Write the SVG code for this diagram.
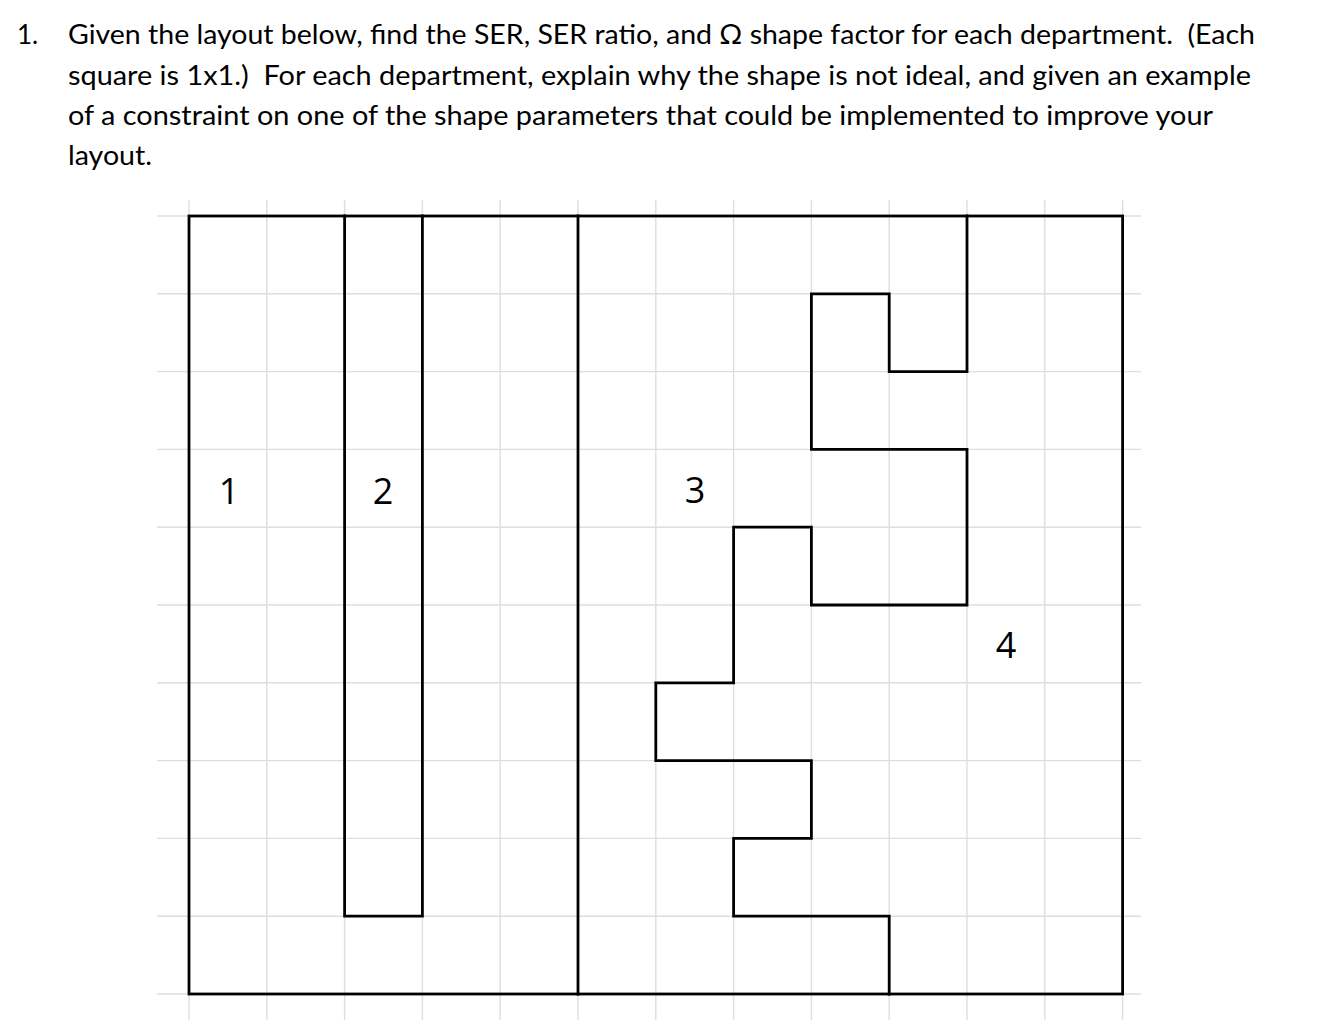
<svg xmlns="http://www.w3.org/2000/svg" width="1319" height="1033" viewBox="0 0 1319 1033">
<style>
.q{font-family:Lato,"Open Sans","Liberation Sans",sans-serif;font-size:26px;fill:#000;white-space:pre}
.g{stroke:#dedede;stroke-width:1.4;fill:none}
.o{stroke:#000;stroke-width:2.8;fill:none;stroke-linecap:square;stroke-linejoin:miter}
.n{font-family:"Open Sans","Liberation Sans",sans-serif;font-size:36px;fill:#000;text-anchor:middle}
</style>
<rect width="1319" height="1033" fill="#fff"/>
<g id="question" xml:space="preserve">
<text class="q" x="17" y="44">1.</text>
<text class="q" x="68" y="44" textLength="1187" lengthAdjust="spacingAndGlyphs">Given the layout below, find the SER, SER ratio, and Ω shape factor for each department.  (Each</text>
<text class="q" x="68" y="85" textLength="1183" lengthAdjust="spacingAndGlyphs">square is 1x1.)  For each department, explain why the shape is not ideal, and given an example</text>
<text class="q" x="68" y="125" textLength="1145" lengthAdjust="spacingAndGlyphs">of a constraint on one of the shape parameters that could be implemented to improve your</text>
<text class="q" x="68" y="165" textLength="84" lengthAdjust="spacingAndGlyphs">layout.</text>
</g>
<g id="grid" class="g">
<path d="M189 200V1020M266.8 200V1020M344.6 200V1020M422.4 200V1020M500.2 200V1020M578 200V1020M655.8 200V1020M733.6 200V1020M811.4 200V1020M889.2 200V1020M967 200V1020M1044.8 200V1020M1122.6 200V1020"/>
<path d="M157 216H1141M157 293.8H1141M157 371.6H1141M157 449.4H1141M157 527.2H1141M157 605H1141M157 682.8H1141M157 760.6H1141M157 838.4H1141M157 916.2H1141M157 994H1141"/>
</g>
<g id="connectors">
<rect id="outline" class="o" x="189" y="216" width="933.6" height="778"/>
<path id="edge-1-2" class="o" d="M344.6 216V916.2H422.4V216"/>
<path id="edge-2-3" class="o" d="M578 216V994"/>
<path id="edge-3-4" class="o" d="M967 216V371.6H889.2V293.8H811.4V449.4H967V605H811.4V527.2H733.6V682.8H655.8V760.6H811.4V838.4H733.6V916.2H889.2V994"/>
</g>
<g id="dept1"><text class="n" x="229" y="504">1</text></g>
<g id="dept2"><text class="n" x="383" y="504">2</text></g>
<g id="dept3"><text class="n" x="695" y="503">3</text></g>
<g id="dept4"><text class="n" x="1006" y="658">4</text></g>
</svg>
